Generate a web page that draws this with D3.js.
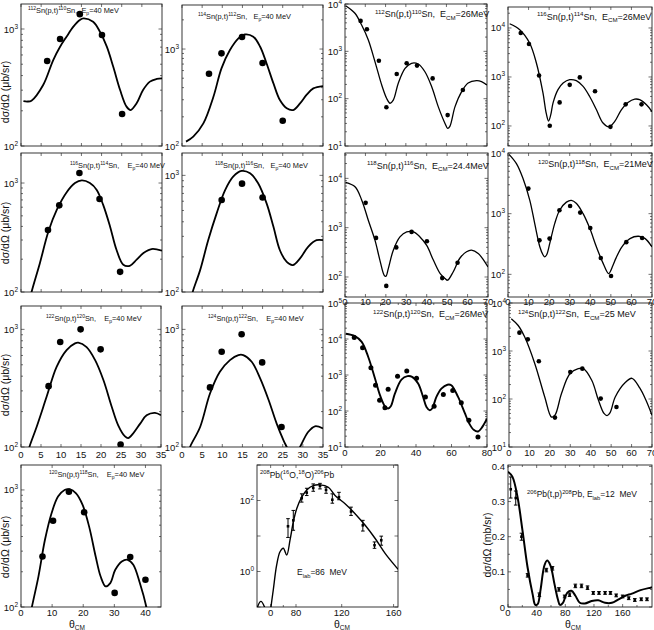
<!DOCTYPE html>
<html>
<head>
<meta charset="utf-8">
<script src="https://cdn.jsdelivr.net/npm/d3@7"></script>
<style>
  body { margin: 0; background: #fff; }
  svg text { font-family: "Liberation Sans", Arial, sans-serif; fill: #111; white-space: pre; }
</style>
</head>
<body>
<svg id="chart" width="654" height="630"></svg>
<script>
// ---------- data ----------
// (x = theta_cm in degrees, y = cross section)

// 112Sn(p,t)110Sn, Ep=40 MeV
var sn112EpPts = [[6.5,533],[9.7,822],[14.6,1340],[20.1,890],[25.1,188]];
var sn112EpFit = [[0.6,242],[1.6,240],[2.6,244],[5.5,332],[8.0,543],[9.7,706],[11.3,859],[13.0,1047],[14.6,1194],[15.5,1234],[17.9,1153],[19.6,948],[21.3,706],[22.9,476],[24.6,301],[26.2,217],[27.2,203],[28.7,232],[30.3,301],[32.0,355],[33.7,374],[35,379]];

// 114Sn(p,t)112Sn, Ep=40 MeV
var sn114EpPts = [[6.7,556],[9.8,903],[14.9,1330],[20,718],[25,182]];
var sn114EpFit = [[1.0,111],[2.8,125],[5.3,171],[7.8,322],[9.8,632],[11.9,977],[14,1290],[15.6,1413],[17.7,1340],[19.4,1056],[21,710],[22.7,442],[24.3,298],[26,245],[27.6,235],[29.3,275],[30.9,336],[32.6,393],[35,415]];

// 112Sn(p,t)110Sn, Ecm=26 MeV
var sn112CmPts = [[7.7,4400],[10.8,2930],[16.7,631],[20.4,66],[25.5,331],[30.4,560],[35.5,500],[43.2,268],[50.6,45],[58.1,152]];
var sn112CmFit = [[0.5,9100],[4.9,6380],[8.2,3600],[11.5,1740],[14.8,600],[18.1,194],[20.5,102],[22.2,80],[23.8,93],[26.3,214],[29.6,437],[32.8,560],[36.1,540],[39.4,370],[42.7,180],[46,67],[49.3,30],[50.6,23.6],[51.7,26],[54.2,67],[57.5,141],[60.7,214],[64.8,240],[67.3,230],[70,195]];

// 116Sn(p,t)114Sn, Ecm=26 MeV
var sn116CmPts = [[6.2,7900],[10.2,4700],[15.1,1070],[20.3,101],[25.1,303],[30,690],[34.9,980],[42.3,510],[49.8,96],[57.2,276],[64.9,276]];
var sn116CmFit = [[0.8,12200],[5.7,9230],[10.5,4940],[13.8,1930],[17,471],[18.6,180],[19.7,126],[20.8,170],[21.9,295],[24.3,550],[26.8,750],[30,880],[33.2,840],[36.4,650],[39.7,400],[43,214],[46.2,115],[49.1,96],[51.9,124],[55.1,214],[58.3,300],[61.6,353],[64,344],[67.3,270],[70,196]];

// 116Sn(p,t)114Sn, Ep=40 MeV
var sn116EpPts = [[6.7,371],[9.5,624],[14.5,1236],[19.5,713],[24.6,153]];
var sn116EpFit = [[2.3,88],[2.65,101],[4.7,185],[6.8,359],[8.9,569],[11.3,820],[13.4,1000],[15.1,1057],[17.1,1000],[18.8,865],[20.4,630],[22.1,400],[23.7,244],[25.4,178],[27,174],[28.7,198],[30.4,228],[32.4,248],[35,240]];

// 118Sn(p,t)116Sn, Ep=40 MeV
var sn118EpPts = [[9.85,614],[14.9,849],[20,646]];
var sn118EpFit = [[2.4,90],[2.65,100],[4.5,154],[6.5,278],[8.6,472],[10.7,748],[12.7,975],[14.8,1091],[16.9,1042],[18.9,855],[21,575],[22.7,362],[24.3,228],[26,181],[27.5,170],[29.3,194],[31.3,244],[33.4,278],[35,278]];

// 118Sn(p,t)116Sn, Ecm=24.4 MeV
var sn118CmPts = [[10.1,3190],[15.2,621],[20.2,66],[25.1,398],[32.6,822],[40.1,532],[47.6,95],[55.1,194]];
var sn118CmFit = [[0.3,8300],[4.9,6750],[8.2,3620],[11.4,1420],[14.7,553],[17.1,218],[19.2,108],[20,103],[21.2,148],[23.6,345],[26.9,650],[30.2,822],[33.5,822],[36.7,650],[40,437],[43.3,218],[46.6,117],[49,93],[50.2,86],[53,128],[56.2,240],[59.5,325],[61.9,350],[65.2,300],[70,160]];

// 120Sn(p,t)118Sn, Ecm=21 MeV
var sn120CmPts = [[9.9,2590],[15.3,363],[20.2,388],[25,1140],[30.2,1340],[35.1,1042],[40,580],[45.1,186],[50.1,94],[57.5,339],[65.2,397]];
var sn120CmFit = [[0.5,9500],[4.1,6680],[7.3,3800],[10.6,1660],[13,686],[15.5,282],[17,210],[17.9,194],[18.8,210],[20.3,323],[22.7,686],[25.1,1140],[28.4,1550],[30.8,1660],[33.3,1470],[36.5,1000],[39.8,567],[43,282],[46.3,150],[48.9,103],[51,140],[52.5,185],[55.3,282],[59.3,388],[63.4,424],[66.7,388],[70,282]];

// 122Sn(p,t)120Sn, Ep=40 MeV
var sn122EpPts = [[6.9,329],[9.8,781],[14.9,1000],[19.9,676],[24.9,105]];
var sn122EpFit = [[1.8,90],[2.1,100],[3.9,148],[6.4,267],[8.9,480],[11.4,667],[13.5,760],[14.3,771],[16.4,707],[18.5,550],[20.6,371],[22.7,219],[24.3,153],[26,123],[26.8,119],[28,130],[29.8,158],[31.4,186],[33.5,195],[35,186]];

// 124Sn(p,t)122Sn, Ep=40 MeV
var sn124EpPts = [[6.95,321],[9.85,646],[14.8,908],[19.9,524],[24.7,148]];
var sn124EpFit = [[1.7,90],[2,100],[4.5,148],[6.95,285],[9.4,436],[11.9,548],[14,605],[15.2,605],[17.3,531],[19.4,383],[21.5,251],[23.5,158],[25.2,114],[26,100],[27.5,78],[29.3,100],[31.3,134],[33,150],[35,144]];

// 122Sn(p,t)120Sn, Ecm=26 MeV
var sn122CmPts = [[5.2,11000],[9.9,5750],[14.6,1580],[17.2,520],[19.5,200],[22.5,124],[24.3,400],[29.6,930],[34.8,1300],[40.3,815],[45.3,246],[50.2,135],[55.4,286],[60.7,371],[65.5,170],[69.8,55],[74.9,19]];
var sn122CmFit = [[0.4,14000],[5.6,12000],[9.4,8300],[13.1,3170],[16.9,795],[19.7,275],[22.5,135],[24.3,117],[25.8,135],[28.1,303],[31.8,745],[35.2,930],[37.8,890],[41.2,577],[44,246],[45.9,130],[47.8,105],[49.1,117],[51.5,246],[54.3,417],[57.7,537],[59.9,520],[63.7,246],[67.4,90],[70,45],[72.5,30],[75,27],[77,34],[80,61]];

// 124Sn(p,t)122Sn, Ecm=25 MeV
var sn124CmPts = [[5.1,2411],[9.2,1750],[14.6,610],[22.5,41],[30,363],[35.9,429],[44.9,102],[52.6,68]];
var sn124CmFit = [[1.1,4700],[4.5,3400],[7.7,1950],[12.6,550],[17.5,110],[20.8,42],[22.5,46],[25.7,130],[29.8,336],[33.9,428],[36.4,428],[40.5,245],[43.8,94],[46.5,50],[48,45],[49.5,52],[52,110],[56.9,220],[60.2,270],[64,170],[67,95],[70,46]];

// 120Sn(p,t)118Sn, Ep=40 MeV
var sn120EpPts = [[6.9,270],[10.3,545],[15.4,966],[20.3,645],[30.1,132],[35.1,267],[40,171]];
var sn120EpFit = [[3.2,90],[3.5,100],[5.6,182],[7.7,375],[9.8,630],[11.9,877],[14,1000],[15.6,1014],[17.7,935],[19.8,745],[21.9,486],[24,270],[25.6,182],[27.2,150],[28.7,160],[30.3,208],[32.4,245],[34.3,253],[36.1,230],[38.2,160],[40.3,100],[40.6,90]];

// 208Pb(16O,18O)206Pb, Elab=86 MeV : [x, y, low, high]
var pbOPts = [[54.8,18.8,9.1,30.8],[71.5,27.6,14.5,52.5],[85,116,90,154],[89.4,167,138,221],[95.1,226,182,293],[101,258,212,304],[106.3,199,160,236],[111.8,105,84,154],[117.6,124,105,170],[127.2,49,38,65],[136.3,20,13.8,27.6],[145.3,5.5,4.5,6.8],[150.5,7.6,5.5,9.9]];
var pbOFit = [[-45,0.05],[-41.4,0.1],[-30.4,0.144],[-19.3,0.1],[-15,0.07],[0,0.07],[1.2,0.1],[8.4,0.306],[19.1,1.53],[29.6,3.6],[40,4.5],[50.7,2.9],[61.1,7.6],[71.5,24.8],[80.6,58.6],[85,124],[89.4,199],[95.1,263],[101,275],[108.3,236],[114.2,138],[122.6,81],[130.3,42.5],[138.1,20],[145.8,8.5],[153.6,3.2],[162.7,1.24],[163.4,1.15]];

// 206Pb(t,p)208Pb, Elab=12 MeV (mb/sr) : [x, y, low, high]
var pbTPts = [[3.8,0.335,0.31,0.37],[10.8,0.31,0.29,0.33],[18.8,0.20,0.19,0.21],[27.3,0.09,0.085,0.095],[43.8,0.035,0.03,0.04],[53.6,0.105,0.10,0.11],[62.1,0.11,0.105,0.115],[71,0.05,0.045,0.055],[79,0.03,0.026,0.034],[86,0.035,0.03,0.04],[94,0.06,0.055,0.065],[102.6,0.06,0.055,0.065],[111,0.055,0.05,0.06],[119,0.04,0.036,0.044],[127,0.04,0.036,0.044],[135.5,0.04,0.036,0.044],[143,0.04,0.036,0.044],[151,0.033,0.029,0.037],[160,0.03,0.026,0.034],[168.5,0.025,0.021,0.029],[177,0.02,0.016,0.024],[186,0.022,0.018,0.026],[194,0.022,0.018,0.026]];
var pbTFit = [[0,0.385],[6.1,0.371],[13.2,0.314],[20.2,0.218],[27.3,0.113],[34.4,0.036],[38.1,0.006],[41.4,0.008],[45.2,0.046],[50.8,0.118],[54.6,0.132],[59.3,0.118],[64.9,0.065],[69.6,0.022],[72.5,0.006],[76.7,0.012],[82.8,0.041],[88.5,0.046],[94.1,0.032],[100.2,0.012],[107.3,0.01],[116.7,0.017],[126,0.019],[135.5,0.012],[145,0.012],[154.4,0.022],[163.8,0.032],[173,0.038],[185,0.048],[199,0.055],[201,0.056]];

// tick values
var ticks35 = [0,5,10,15,20,25,30,35];
var ticks45 = [0,10,20,30,40];
var ticks70 = [0,10,20,30,40,50,60,70];
var ticks80 = [0,20,40,60,80];
var ticks80minor = [10,30,50,70];
var ticksPbO = [0,80,120,160];
var ticksPbOminor = [40];
var ticksPbT = [0,40,80,120,160];
var ticksPbTminor = [20,60,100,140,180];
var yTicksPbT = [0,0.1,0.2,0.3,0.4];
var yTicksPbTminor = [0.05,0.15,0.25,0.35];

// ---------- layout ----------
var ep = function(a, b, gap) {
  return [[a,"^"],["Sn(p,t)"],[b,"^"],["Sn," + gap + "E"],["p","_"],["=40 MeV"]];
};
var cm = function(a, b, e) {
  return [[a,"^"],["Sn(p,t)"],[b,"^"],["Sn,  E"],["CM","_"],["=" + e]];
};

var panels = [
  {box:[21,4,162,146], xd:[0,35], yd:[100,1636], xt:ticks35, xl:false, pts:sn112EpPts, fit:sn112EpFit, r:3.3, lw:1.8,
   lbl:ep("112","110","  "), lx:28, ly:13, fs:7.4},
  {box:[182,5,323,146], xd:[0,35], yd:[100,2846], xt:ticks35, xl:false, pts:sn114EpPts, fit:sn114EpFit, r:3.3, lw:1.8,
   lbl:ep("114","112","   "), lx:198, ly:18.5, fs:7.4},
  {box:[345,4,487,146], xd:[0,70], yd:[10,10000], xt:ticks70, xl:false, pts:sn112CmPts, fit:sn112CmFit, r:2.3, lw:1.3,
   lbl:cm("112","110","26MeV"), lx:375, ly:17, fs:9},
  {box:[508,7,652,146], xd:[0,70], yd:[39,26800], xt:ticks70, xl:false, pts:sn116CmPts, fit:sn116CmFit, r:2.3, lw:1.3,
   lbl:cm("116","114","26MeV"), lx:537, ly:19.5, fs:9},

  {box:[21,153,162,292], xd:[0,35], yd:[100,1886], xt:ticks35, xl:false, pts:sn116EpPts, fit:sn116EpFit, r:3.3, lw:1.8,
   lbl:ep("116","114","    "), lx:70, ly:168, fs:7.4},
  {box:[182,153,323,292], xd:[0,35], yd:[100,1555], xt:ticks35, xl:false, pts:sn118EpPts, fit:sn118EpFit, r:3.3, lw:1.8,
   lbl:ep("118","116","   "), lx:215, ly:168, fs:7.4},
  {box:[345,153,488,297], xd:[0,70], yd:[39.3,32700], xt:ticks70, xl:true, xo:7.5, pts:sn118CmPts, fit:sn118CmFit, r:2.3, lw:1.3,
   lbl:cm("118","116","24.4MeV"), lx:367, ly:168.5, fs:9},
  {box:[508,153,652,297], xd:[0,70], yd:[42.3,10000], xt:ticks70, xl:true, xo:7.5, pts:sn120CmPts, fit:sn120CmFit, r:2.3, lw:1.3,
   lbl:cm("120","118","21MeV"), lx:538, ly:167, fs:9},

  {box:[21,306,161,447], xd:[0,35], yd:[100,1580], xt:ticks35, xl:true, xo:11, pts:sn122EpPts, fit:sn122EpFit, r:3.3, lw:1.8,
   lbl:ep("122","120","    "), lx:46, ly:321, fs:7.4},
  {box:[182,306,323,447], xd:[0,35], yd:[100,1580], xt:ticks35, xl:true, xo:11, pts:sn124EpPts, fit:sn124EpFit, r:3.3, lw:1.8,
   lbl:ep("124","122","    "), lx:208, ly:321, fs:7.4},
  {box:[345,303,487,447], xd:[0,80], yd:[10,100000], xt:ticks80, xm:ticks80minor, xl:true, xo:9, pts:sn122CmPts, fit:sn122CmFit, r:2.5, lw:1.9,
   lbl:cm("122","120","26MeV"), lx:373, ly:317, fs:9},
  {box:[509,303,652,447], xd:[0,70], yd:[10,10000], xt:ticks70, xl:true, xo:9, pts:sn124CmPts, fit:sn124CmFit, r:2.3, lw:1.3,
   lbl:cm("124","122","25 MeV"), lx:518, ly:317, fs:9},

  {box:[21,465,161,607], xd:[0,45], yd:[100,1633], xt:ticks45, xl:true, xo:9, pts:sn120EpPts, fit:sn120EpFit, r:3.3, lw:1.8,
   lbl:ep("120","118","    "), lx:49, ly:477, fs:7.4, theta:77},
  {box:[257,465,398,607], xd:[-43,80,120,163.4], yd:[0.1,1000], yLab:[1,100], noMinor:true, xt:ticksPbO, xm:ticksPbOminor, xl:true, xo:9,
   pts:pbOPts, fit:pbOFit, err:true, lw:1.4,
   lbl:[["208","^"],["Pb("],["16","^"],["O,"],["18","^"],["O)"],["206","^"],["Pb"]], lx:260, ly:477.5, fs:8.5,
   lbl2:[["E"],["lab","_"],["=86  MeV"]], lx2:297, ly2:575, theta:342},
  {box:[508,465,652,607], xd:[0,201], yd:[0,0.404], linear:true, yt:yTicksPbT, ym:yTicksPbTminor, xt:ticksPbT, xm:ticksPbTminor, xl:true, xo:9,
   pts:pbTPts, fit:pbTFit, err:true, lw:2,
   lbl:[["206","^"],["Pb(t,p)"],["208","^"],["Pb, E"],["lab","_"],["=12  MeV"]], lx:527, ly:497, fs:8.5, theta:573}
];

var yTitles = [
  {x:9, y:92, t:"dσ/dΩ (μb/sr)"},
  {x:9, y:233, t:"dσ/dΩ (μb/sr)"},
  {x:9, y:385, t:"dσ/dΩ (μb/sr)"},
  {x:9, y:547, t:"dσ/dΩ (μb/sr)"},
  {x:491, y:545, t:"dσ/dΩ (mb/sr)"}
];

// ---------- drawing ----------
var svg = d3.select("#chart");
var defs = svg.append("defs");

function rich(t, segs, fs) {
  var cur = 0;
  segs.forEach(function(s) {
    var target = s[1] == "^" ? -0.38 * fs : (s[1] == "_" ? 0.3 * fs : 0);
    t.append("tspan")
      .attr("dy", target - cur)
      .attr("font-size", s[1] ? fs * 0.68 : fs)
      .text(s[0]);
    cur = target;
  });
}

function drawPanel(p, i) {
  var x0 = p.box[0], y0 = p.box[1], x1 = p.box[2], y1 = p.box[3];
  var x = d3.scaleLinear().range(p.xd.length > 2 ? [257,296,341.7,398] : [x0, x1]).domain(p.xd);
  var y = (p.linear ? d3.scaleLinear() : d3.scaleLog()).domain(p.yd).range([y1, y0]);
  var g = svg.append("g");

  defs.append("clipPath").attr("id", "clip" + i)
    .append("rect").attr("x", x0).attr("y", y0).attr("width", x1 - x0).attr("height", y1 - y0);

  var tk = g.append("g").attr("stroke", "#333").attr("stroke-width", 0.7);
  function xTick(v, len) {
    tk.append("line").attr("x1", x(v)).attr("x2", x(v)).attr("y1", y1).attr("y2", y1 - len);
    tk.append("line").attr("x1", x(v)).attr("x2", x(v)).attr("y1", y0).attr("y2", y0 + len);
  }
  function yTick(v, len) {
    tk.append("line").attr("x1", x0).attr("x2", x0 + len).attr("y1", y(v)).attr("y2", y(v));
    tk.append("line").attr("x1", x1).attr("x2", x1 - len).attr("y1", y(v)).attr("y2", y(v));
  }
  p.xt.forEach(function(v) { xTick(v, 3); });
  (p.xm || []).forEach(function(v) { xTick(v, 2); });

  var labelVals = [];
  if (p.linear) {
    p.yt.forEach(function(v) { yTick(v, 3); });
    p.ym.forEach(function(v) { yTick(v, 2); });
    labelVals = p.yt;
  } else {
    var e0 = Math.ceil(Math.log10(p.yd[0]) - 1e-9), e1 = Math.floor(Math.log10(p.yd[1]) + 1e-9);
    for (var e = Math.floor(Math.log10(p.yd[0])); e <= e1; e++) {
      var dec = Math.pow(10, e);
      if (e >= e0) { yTick(dec, 3.5); labelVals.push(dec); }
      if (!p.noMinor) {
        for (var k = 2; k < 10; k++) {
          var v = k * dec;
          if (v > p.yd[0] && v < p.yd[1]) yTick(v, 2);
        }
      }
    }
    if (p.yLab) labelVals = p.yLab;
  }

  g.append("rect")
    .attr("x", x0).attr("y", y0).attr("width", x1 - x0).attr("height", y1 - y0)
    .attr("fill", "none").attr("stroke", "#222").attr("stroke-width", 0.9);

  // y tick labels
  labelVals.forEach(function(v) {
    var t = g.append("text").attr("x", x0 - 3).attr("y", y(v) + 3.5).attr("text-anchor", "end").attr("font-size", 9.5);
    if (p.linear) {
      t.text(d3.format("")(v));
    } else {
      var ex = Math.round(Math.log10(v));
      t.append("tspan").text("10");
      t.append("tspan").attr("dy", -4).attr("font-size", 6.5).text(ex);
    }
  });

  // x tick labels
  if (p.xl) {
    p.xt.forEach(function(v) {
      g.append("text").attr("x", x(v)).attr("y", y1 + p.xo).attr("text-anchor", "middle")
        .attr("font-size", 9.5).text(v);
    });
  }

  var body = g.append("g").attr("clip-path", "url(#clip" + i + ")");

  var line = d3.line()
    .x(function(d) { return x(d[0]); })
    .y(function(d) { return y(d[1]); })
    .curve(d3.curveCatmullRom.alpha(0.5));
  body.append("path").datum(p.fit)
    .attr("d", line).attr("fill", "none").attr("stroke", "#000").attr("stroke-width", p.lw);

  if (p.err) {
    var eb = body.append("g").attr("stroke", "#000").attr("stroke-width", 1);
    p.pts.forEach(function(d) {
      var cx = x(d[0]);
      eb.append("line").attr("x1", cx).attr("x2", cx).attr("y1", y(d[2])).attr("y2", y(d[3]));
      eb.append("line").attr("x1", cx - 1.8).attr("x2", cx + 1.8).attr("y1", y(d[2])).attr("y2", y(d[2]));
      eb.append("line").attr("x1", cx - 1.8).attr("x2", cx + 1.8).attr("y1", y(d[3])).attr("y2", y(d[3]));
      eb.append("rect").attr("x", cx - 1.3).attr("y", y(d[1]) - 1.3).attr("width", 2.6).attr("height", 2.6)
        .attr("fill", "#000").attr("stroke", "none");
    });
  } else {
    body.selectAll("circle").data(p.pts).enter().append("circle")
      .attr("cx", function(d) { return x(d[0]); })
      .attr("cy", function(d) { return y(d[1]); })
      .attr("r", p.r).attr("fill", "#000");
  }

  rich(g.append("text").attr("x", p.lx).attr("y", p.ly).attr("font-size", p.fs), p.lbl, p.fs);
  if (p.lbl2) rich(g.append("text").attr("x", p.lx2).attr("y", p.ly2).attr("font-size", p.fs), p.lbl2, p.fs);

  if (p.theta) {
    var th = g.append("text").attr("x", p.theta).attr("y", y1 + 20.5).attr("text-anchor", "middle").attr("font-size", 10.5);
    th.append("tspan").text("θ");
    th.append("tspan").attr("dy", 2).attr("font-size", 6.5).text("CM");
  }
}

panels.forEach(drawPanel);

yTitles.forEach(function(t) {
  svg.append("text")
    .attr("transform", "translate(" + t.x + "," + t.y + ") rotate(-90)")
    .attr("text-anchor", "middle").attr("font-size", 10.5).text(t.t);
});
</script>
</body>
</html>
